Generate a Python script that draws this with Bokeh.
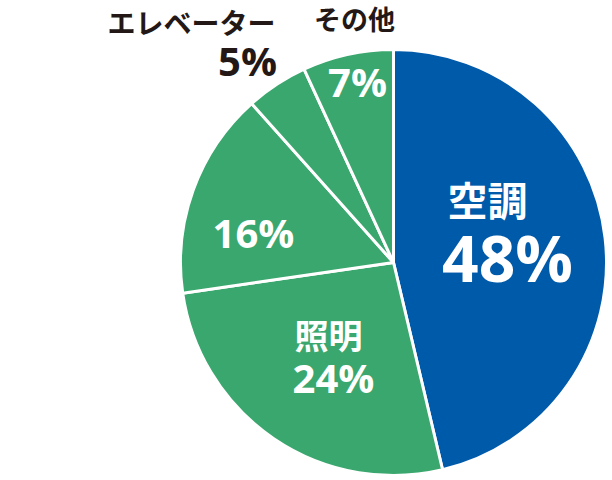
import numpy as np
from bokeh.plotting import figure
from bokeh.models import ColumnDataSource, Range1d
from bokeh.core.properties import value
from bokeh.embed import file_html
from bokeh.resources import INLINE

# ---- data ----
categories = ["空調", "照明", "", "エレベーター", "その他"]
percent_labels = [48, 24, 16, 5, 7]            # printed percentages
slice_shares = [46.3, 26.4, 15.7, 4.7, 6.9]     # slice sizes as drawn (measured)
colors = ["#005aaa", "#3aa76e", "#3aa76e", "#3aa76e", "#3aa76e"]

# ---- layout (page pixel coordinates, y measured downward) ----
W, H = 612, 480
CX, CY, R = 393, 262, 213

def Y(py):
    return H - py

shares = np.array(slice_shares, dtype=float)
frac = shares / shares.sum()
cum_end = np.cumsum(frac)
cum_start = cum_end - frac
src = ColumnDataSource(dict(
    cat=categories,
    start=np.pi / 2 - 2 * np.pi * cum_start,
    end=np.pi / 2 - 2 * np.pi * cum_end,
    color=colors,
))

p = figure(width=W, height=H, x_range=Range1d(0, W), y_range=Range1d(0, H),
           output_backend="svg", toolbar_location=None, min_border=0)
p.axis.visible = False
p.grid.visible = False
p.outline_line_color = None
p.background_fill_color = "white"
p.border_fill_color = "white"

p.wedge(x=CX, y=Y(CY), radius=R, start_angle="start", end_angle="end", direction="clock",
        fill_color="color", line_color="white", line_width=3, source=src)

jp = value("Noto Sans CJK JP")
num = value("Open Sans")
ink = "#231815"

# category names (text, x_center, y_center, size, color)
name_items = [
    (categories[0], 487, 198, "40px", "white"),
    (categories[1], 328, 334, "34px", "white"),
    (categories[3], 191, 21, "28px", ink),
    (categories[4], 354, 18, "27px", ink),
]
for t, x, y, s, c in name_items:
    p.text(x=[x], y=[Y(y)], text=[t], text_font=jp, text_font_style="bold",
           text_font_size=s, text_color=c, text_align="center", text_baseline="middle")

# percentages (index, x_center, y position, size, color)
pct_items = [
    (0, 507, 257, "64px", "white"),
    (1, 333, 377, "40px", "white"),
    (2, 253, 232, "40px", "white"),
    (3, 247, 60, "40px", ink),
    (4, 357, 81, "40px", "white"),
]
for i, x, y, s, c in pct_items:
    p.text(x=[x], y=[Y(y)], text=[f"{percent_labels[i]}%"], text_font=num, text_font_style="bold",
           text_font_size=s, text_color=c, text_align="center", text_baseline="alphabetic")

open("out.html", "w").write(file_html(p, INLINE))
